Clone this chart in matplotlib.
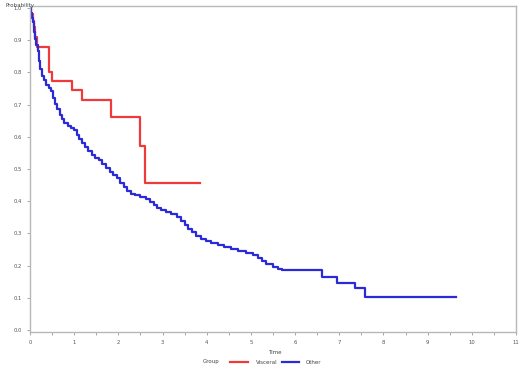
import numpy as np
import matplotlib
matplotlib.use('Agg')
import matplotlib.pyplot as plt
from matplotlib.lines import Line2D
from matplotlib.ticker import MultipleLocator

# Kaplan-Meier style step data
red_t = [0, 0.03, 0.06, 0.09, 0.12, 0.16, 0.43, 0.50, 0.95, 1.17, 1.84, 2.48, 2.61, 3.85]
red_s = [1.0, 0.98, 0.96, 0.94, 0.91, 0.88, 0.80, 0.774, 0.745, 0.714, 0.66, 0.57, 0.455, 0.455]

blue_t = [0, 0.02, 0.04, 0.06, 0.08, 0.10, 0.12, 0.14, 0.17, 0.20, 0.23, 0.27, 0.31,
          0.36, 0.42, 0.47, 0.52, 0.57, 0.62, 0.67, 0.72, 0.78, 0.85, 0.92, 1.00,
          1.06, 1.12, 1.18, 1.25, 1.32, 1.40, 1.48, 1.56, 1.64, 1.72, 1.80, 1.88,
          1.96, 2.04, 2.12, 2.20, 2.28, 2.38, 2.50, 2.62, 2.72, 2.80, 2.88, 2.96,
          3.08, 3.20, 3.32, 3.42, 3.50, 3.58, 3.66, 3.76, 3.86, 3.98, 4.10, 4.25,
          4.40, 4.55, 4.70, 4.90, 5.05, 5.15, 5.25, 5.35, 5.50, 5.62, 5.70, 6.62,
          6.95, 7.35, 7.58, 9.65]
blue_s = [1.0, 0.985, 0.97, 0.955, 0.94, 0.925, 0.905, 0.885, 0.865, 0.835, 0.81, 0.79,
          0.775, 0.762, 0.752, 0.742, 0.72, 0.703, 0.685, 0.668, 0.655, 0.643, 0.635,
          0.627, 0.62, 0.605, 0.592, 0.58, 0.567, 0.555, 0.545, 0.535, 0.527, 0.515,
          0.502, 0.492, 0.482, 0.472, 0.458, 0.445, 0.432, 0.423, 0.418, 0.413, 0.408,
          0.398, 0.388, 0.378, 0.372, 0.366, 0.36, 0.352, 0.34, 0.327, 0.315, 0.303,
          0.292, 0.283, 0.276, 0.27, 0.265, 0.258, 0.25, 0.245, 0.24, 0.232, 0.225,
          0.215, 0.205, 0.197, 0.19, 0.185, 0.166, 0.145, 0.13, 0.104, 0.104]

groups = ['Visceral', 'Other']
colors = ['#ee3a3a', '#2a2ad8']

fig = plt.figure(figsize=(5.2, 3.68), dpi=100)
ax = fig.add_axes([30 / 520, (368 - 331.6) / 368, 486 / 520, 325.2 / 368])

ax.step(red_t, red_s, where='post', color=colors[0], lw=1.6)
ax.step(blue_t, blue_s, where='post', color=colors[1], lw=1.6)

ax.set_xlim(0, 11)
ax.set_ylim(-0.005, 1.005)
ax.xaxis.set_major_locator(MultipleLocator(1))
ax.xaxis.set_minor_locator(MultipleLocator(0.5))
ax.yaxis.set_major_locator(MultipleLocator(0.1))
ax.yaxis.set_major_formatter(plt.FuncFormatter(lambda v, p: f'{v:.1f}'))

for s in ax.spines.values():
    s.set_color('#b8b8b8')
    s.set_linewidth(1.0)
ax.tick_params(which='both', length=2, width=0.6, color='#999999',
               labelsize=3.8, labelcolor='#555555', pad=4)
ax.tick_params(which='minor', length=2)

fig.text(5 / 520, 1 - 5 / 368, 'Probability', fontsize=4, color='#444444', va='center')
fig.text(275 / 520, 1 - 352 / 368, 'Time', fontsize=4, color='#444444',
         ha='center', va='center')

# legend row along the bottom
ly = 1 - 362 / 368
fig.text(203 / 520, ly, 'Group', fontsize=4, color='#444444', va='center')
for (x0, x1, tx), lab, c in zip([(230, 248, 256), (282, 299, 306)], groups, colors):
    fig.add_artist(Line2D([x0 / 520, x1 / 520], [ly, ly], color=c, lw=1.6,
                          transform=fig.transFigure))
    fig.text(tx / 520, ly, lab, fontsize=4, color='#444444', va='center')

fig.savefig('out.png', dpi=100)
